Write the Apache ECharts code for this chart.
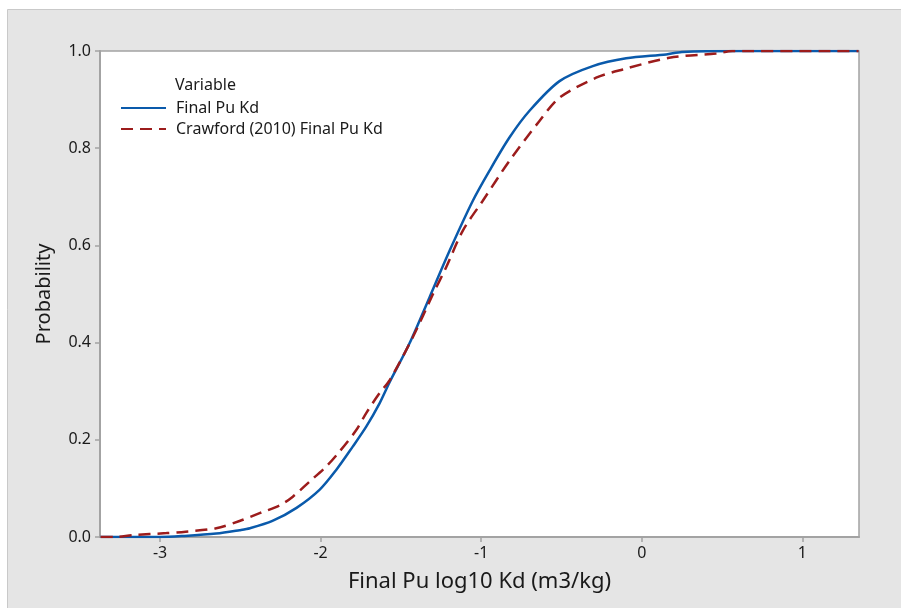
<!DOCTYPE html>
<html>
<head>
<meta charset="utf-8">
<script src="https://cdn.jsdelivr.net/npm/echarts@6/dist/echarts.min.js"></script>
<style>
html,body{margin:0;padding:0;background:#fff;}
#chart{width:901px;height:608px;}
</style>
</head>
<body>
<div id="chart"></div>
<script>
const xTicks = [-3, -2, -1, 0, 1];
const blueName = 'Final Pu Kd';
const redName = 'Crawford (2010) Final Pu Kd';
const blueX = [-3.37, -3.0, -2.86, -2.65, -2.505, -2.44, -2.3, -2.15, -2.007, -1.903, -1.80, -1.716, -1.633, -1.571, -1.447, -1.322, -1.197, -1.052, -0.948, -0.824, -0.699, -0.512, -0.305, -0.097, 0.152, 0.25, 0.6, 1.35];
const blueP = [0, 0, 0.002, 0.007, 0.014, 0.018, 0.033, 0.06, 0.097, 0.138, 0.186, 0.227, 0.275, 0.318, 0.398, 0.493, 0.589, 0.692, 0.754, 0.822, 0.877, 0.938, 0.969, 0.985, 0.993, 0.998, 1.0, 1.0];
const redX = [-3.37, -3.28, -3.17, -2.96, -2.84, -2.65, -2.505, -2.38, -2.256, -2.173, -2.069, -1.965, -1.882, -1.778, -1.716, -1.633, -1.571, -1.426, -1.30, -1.218, -1.115, -0.99, -0.824, -0.637, -0.512, -0.284, -0.118, 0.172, 0.463, 0.565, 1.35];
const redP = [0, 0, 0.004, 0.008, 0.011, 0.018, 0.033, 0.049, 0.065, 0.083, 0.114, 0.145, 0.176, 0.22, 0.255, 0.296, 0.322, 0.411, 0.50, 0.555, 0.63, 0.692, 0.774, 0.856, 0.904, 0.945, 0.962, 0.986, 0.995, 1.0, 1.0];

const FONT = 'Noto Sans';
const TXT = '#1a1a1a';
const chart = echarts.init(document.getElementById('chart'), null, {renderer: 'canvas'});
chart.setOption({
  backgroundColor: '#ffffff',
  animation: false,
  textStyle: {fontFamily: FONT},
  graphic: [
    {type: 'rect', z: -10, silent: true, shape: {x: 7.5, y: 9.5, width: 900, height: 605},
     style: {fill: '#e5e5e5', stroke: '#c9c9c9', lineWidth: 1}},
    {type: 'text', left: 175, top: 77, z: 10,
     style: {text: 'Variable', fill: TXT, font: '16px "Noto Sans"'}}
  ],
  grid: {left: 100, right: 42, top: 51, bottom: 71, show: true, backgroundColor: '#ffffff',
         borderColor: '#a3a3a3', borderWidth: 1.5},
  legend: {
    orient: 'vertical', left: 115, top: 95, itemWidth: 45, itemHeight: 14, itemGap: 5,
    itemStyle: {opacity: 0},
    textStyle: {fontSize: 16, color: TXT, fontFamily: FONT, padding: [0, 0, 0, 5]},
    data: [blueName, redName]
  },
  xAxis: {
    type: 'value', min: -3.374, max: 1.353,
    name: 'Final Pu log10 Kd (m3/kg)', nameLocation: 'middle', nameGap: 34,
    nameTextStyle: {fontSize: 22, color: TXT, fontFamily: FONT},
    axisLine: {onZero: false, lineStyle: {color: '#a3a3a3', width: 2}},
    axisTick: {show: true, length: 5, customValues: xTicks, lineStyle: {color: '#a3a3a3', width: 1.5}},
    axisLabel: {customValues: xTicks, fontSize: 16, color: TXT, margin: 8, formatter: v => String(v)},
    splitLine: {show: false}
  },
  yAxis: {
    type: 'value', min: 0, max: 1, interval: 0.2,
    name: 'Probability', nameLocation: 'middle', nameGap: 46,
    nameTextStyle: {fontSize: 20, color: TXT, fontFamily: FONT},
    axisLine: {show: true, onZero: false, lineStyle: {color: '#a3a3a3', width: 2}},
    axisTick: {show: true, length: 5, lineStyle: {color: '#a3a3a3', width: 1.5}},
    axisLabel: {fontSize: 16, color: TXT, margin: 9, formatter: v => v.toFixed(1)},
    splitLine: {show: false}
  },
  series: [
    {name: blueName, type: 'line', symbol: 'none', smooth: 0.3,
     data: blueX.map((x, i) => [x, blueP[i]]),
     lineStyle: {color: '#0a5aab', width: 2.5}, itemStyle: {color: '#0a5aab'}},
    {name: redName, type: 'line', symbol: 'none', smooth: 0.3,
     data: redX.map((x, i) => [x, redP[i]]),
     lineStyle: {color: '#9c1c1c', width: 2.5, type: [12, 7]}, itemStyle: {color: '#9c1c1c'}}
  ]
});
</script>
</body>
</html>
